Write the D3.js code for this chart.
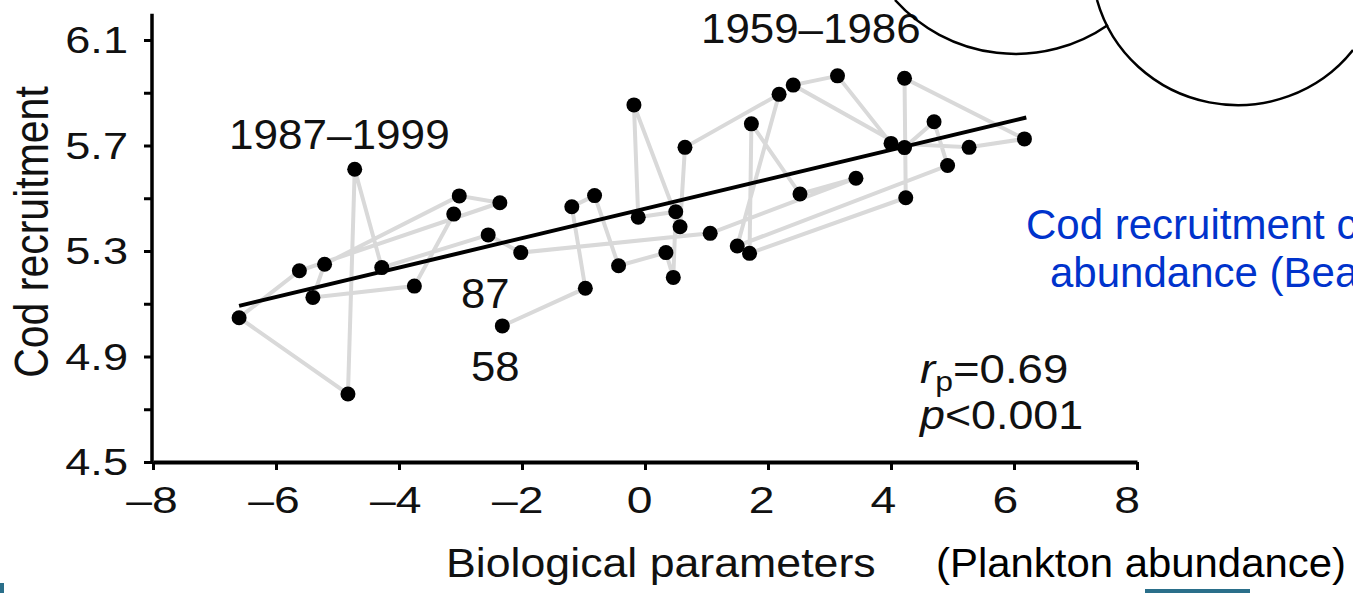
<!DOCTYPE html>
<html><head><meta charset="utf-8">
<script src="https://cdn.jsdelivr.net/npm/d3@7"></script>
<style>
html,body{margin:0;padding:0;background:#fff;}
svg{display:block;font-family:"Liberation Sans",Arial,Helvetica,sans-serif;}
</style></head>
<body><svg id="chart" width="1353" height="593"></svg>
<script>
// ---- data (chronological, 1958-1999) ----
const years = [1958,1959,1960,1961,1962,1963,1964,1965,1966,1967,1968,1969,1970,1971,1972,1973,1974,1975,1976,1977,1978,1979,1980,1981,1982,1983,1984,1985,1986,1987,1988,1989,1990,1991,1992,1993,1994,1995,1996,1997,1998,1999];
const bioParam = [-2.32,-0.97,-1.19,-0.82,-0.43,0.34,0.46,0.50,-0.11,-0.18,0.57,0.65,2.18,1.50,4.92,4.70,4.22,2.41,3.13,4.00,5.27,6.17,4.22,4.24,1.70,1.73,2.52,3.43,1.06,-2.02,-2.55,-4.28,-4.72,-4.83,-6.60,-5.62,-2.36,-3.02,-5.21,-5.40,-3.75,-3.11];
const codRecruit = [5.016,5.159,5.468,5.510,5.244,5.294,5.200,5.449,5.428,5.854,5.392,5.693,5.894,5.319,5.624,5.790,5.692,5.929,5.964,5.708,5.693,5.725,5.955,5.502,5.291,5.782,5.516,5.576,5.367,5.294,5.361,5.237,5.610,4.758,5.047,5.225,5.483,5.509,5.250,5.124,5.167,5.440];
const trendX = [-6.6, 6.2];
const trendY = [5.092, 5.806];
const xTicks = [-8,-6,-4,-2,0,2,4,6,8];
const yTicks = [4.5,4.9,5.3,5.7,6.1];
const yMinorTicks = [4.7,5.1,5.5,5.9];
const periodLabels = ["1987\u20131999","1959\u20131986"];
const yearLabels = ["87","58"];

const svg = d3.select("#chart");
const FONT = '"Liberation Sans",Arial,Helvetica,sans-serif';

const x = d3.scaleLinear().domain([-8,8]).range([153,1137]);
const y = d3.scaleLinear().domain([4.5,6.1]).range([462,40]);
const gray = "#d9d9d9";

// helper: text with horizontal stretch
function stext(px, py, str, size, sx, fill, anchor){
  const g = svg.append("g").attr("transform",`translate(${px},${py}) scale(${sx},1)`);
  return g.append("text").attr("x",0).attr("y",0).attr("font-family",FONT).attr("font-size",size)
    .attr("fill",fill||"#111").attr("text-anchor",anchor||"start").text(str);
}

// connecting path
const pts = years.map((yr,i)=>({yr, x:bioParam[i], y:codRecruit[i]}));
const line = d3.line().x(d=>x(d.x)).y(d=>y(d.y));
svg.append("path").datum(pts).attr("d",line)
  .attr("fill","none").attr("stroke",gray).attr("stroke-width",4).attr("stroke-linejoin","miter");

// regression
svg.append("line")
  .attr("x1",x(trendX[0])).attr("y1",y(trendY[0]))
  .attr("x2",x(trendX[1])).attr("y2",y(trendY[1]))
  .attr("stroke","#000").attr("stroke-width",4);

// points
svg.selectAll("circle.pt").data(pts).enter().append("circle")
  .attr("class","pt").attr("cx",d=>x(d.x)).attr("cy",d=>y(d.y)).attr("r",7.5).attr("fill","#000");

// y axis (ticks only, labels drawn stretched)
const gy = svg.append("g").attr("transform","translate(152,0)")
  .call(d3.axisLeft(y).tickValues(yTicks).tickFormat("").tickSize(8).tickSizeOuter(0));
gy.select(".domain").remove();
gy.selectAll(".tick line").attr("stroke","#000").attr("stroke-width",3);
svg.append("g").attr("transform","translate(152,0)")
  .call(d3.axisLeft(y).tickValues(yMinorTicks).tickFormat("").tickSize(8).tickSizeOuter(0))
  .call(g=>g.select(".domain").remove())
  .selectAll(".tick line").attr("stroke","#000").attr("stroke-width",3);
svg.append("line").attr("x1",152).attr("x2",152).attr("y1",y(6.2)).attr("y2",y(4.5)+2)
  .attr("stroke","#000").attr("stroke-width",3.5);
yTicks.forEach(v=>{
  stext(128, y(v)+13, d3.format(".1f")(v), 37, 1.22, "#111", "end");
});

// x axis
const gx = svg.append("g").attr("transform","translate(0,462)")
  .call(d3.axisBottom(x).tickValues(xTicks).tickFormat("").tickSize(8).tickSizeOuter(0));
gx.select(".domain").attr("stroke","#000").attr("stroke-width",4);
gx.selectAll(".tick line").attr("stroke","#000").attr("stroke-width",3);
xTicks.forEach((v,i)=>{
  const lab = v<0 ? "\u2013"+Math.abs(v) : String(v);
  stext(x(v)-1-i*1.1, 513, lab, 37, 1.25, "#111", "middle");
});

// axis titles
svg.append("text").attr("transform","translate(48,232) scale(1.18,1) rotate(-90)").attr("text-anchor","middle")
  .attr("font-family",FONT).attr("font-size",41).attr("fill","#111").text("Cod recruitment");
stext(446, 577, "Biological parameters", 41, 1.09, "#111");
stext(936, 577, "(Plankton abundance)", 41.5, 1.01, "#000");

// annotations
stext(229, 149, periodLabels[0], 42, 1.05);
stext(701, 43, periodLabels[1], 42, 1.045);
stext(461, 308, yearLabels[0], 42, 1.04);
stext(471, 381, yearLabels[1], 42, 1.04);

const g1 = svg.append("g").attr("transform","translate(920,383) scale(1.14,1)");
const st1 = g1.append("text").attr("font-family",FONT).attr("font-size",40).attr("fill","#111");
st1.append("tspan").attr("font-style","italic").text("r");
st1.append("tspan").attr("font-size",28).attr("dy",8).text("p");
st1.append("tspan").attr("dy",-8).text("=0.69");
const g2 = svg.append("g").attr("transform","translate(920,429) scale(1.12,1)");
const st2 = g2.append("text").attr("font-family",FONT).attr("font-size",40).attr("fill","#111");
st2.append("tspan").attr("font-style","italic").text("p");
st2.append("tspan").text("<0.001");

// blue slide text (runs off the right edge as in the slide)
stext(1026, 239, "Cod recruitment correlates with plankton", 42, 1.0, "#0033cc");
stext(1050, 287, "abundance (Beaugrand et al. 2003)", 42, 1.0, "#0033cc");

// callout cloud arcs
svg.append("path").attr("d","M895,0 A162,162 0 0 0 1108,25").attr("fill","none").attr("stroke","#000").attr("stroke-width",2.5);
svg.append("path").attr("d","M1097,0 A146,143 0 0 0 1353,50").attr("fill","none").attr("stroke","#000").attr("stroke-width",2.5);

// slide decorations
svg.append("rect").attr("x",0).attr("y",583).attr("width",4).attr("height",10).attr("fill","#2a6f8a");
svg.append("rect").attr("x",1145).attr("y",589).attr("width",105).attr("height",4).attr("fill","#2a6f8a");
</script></body></html>
